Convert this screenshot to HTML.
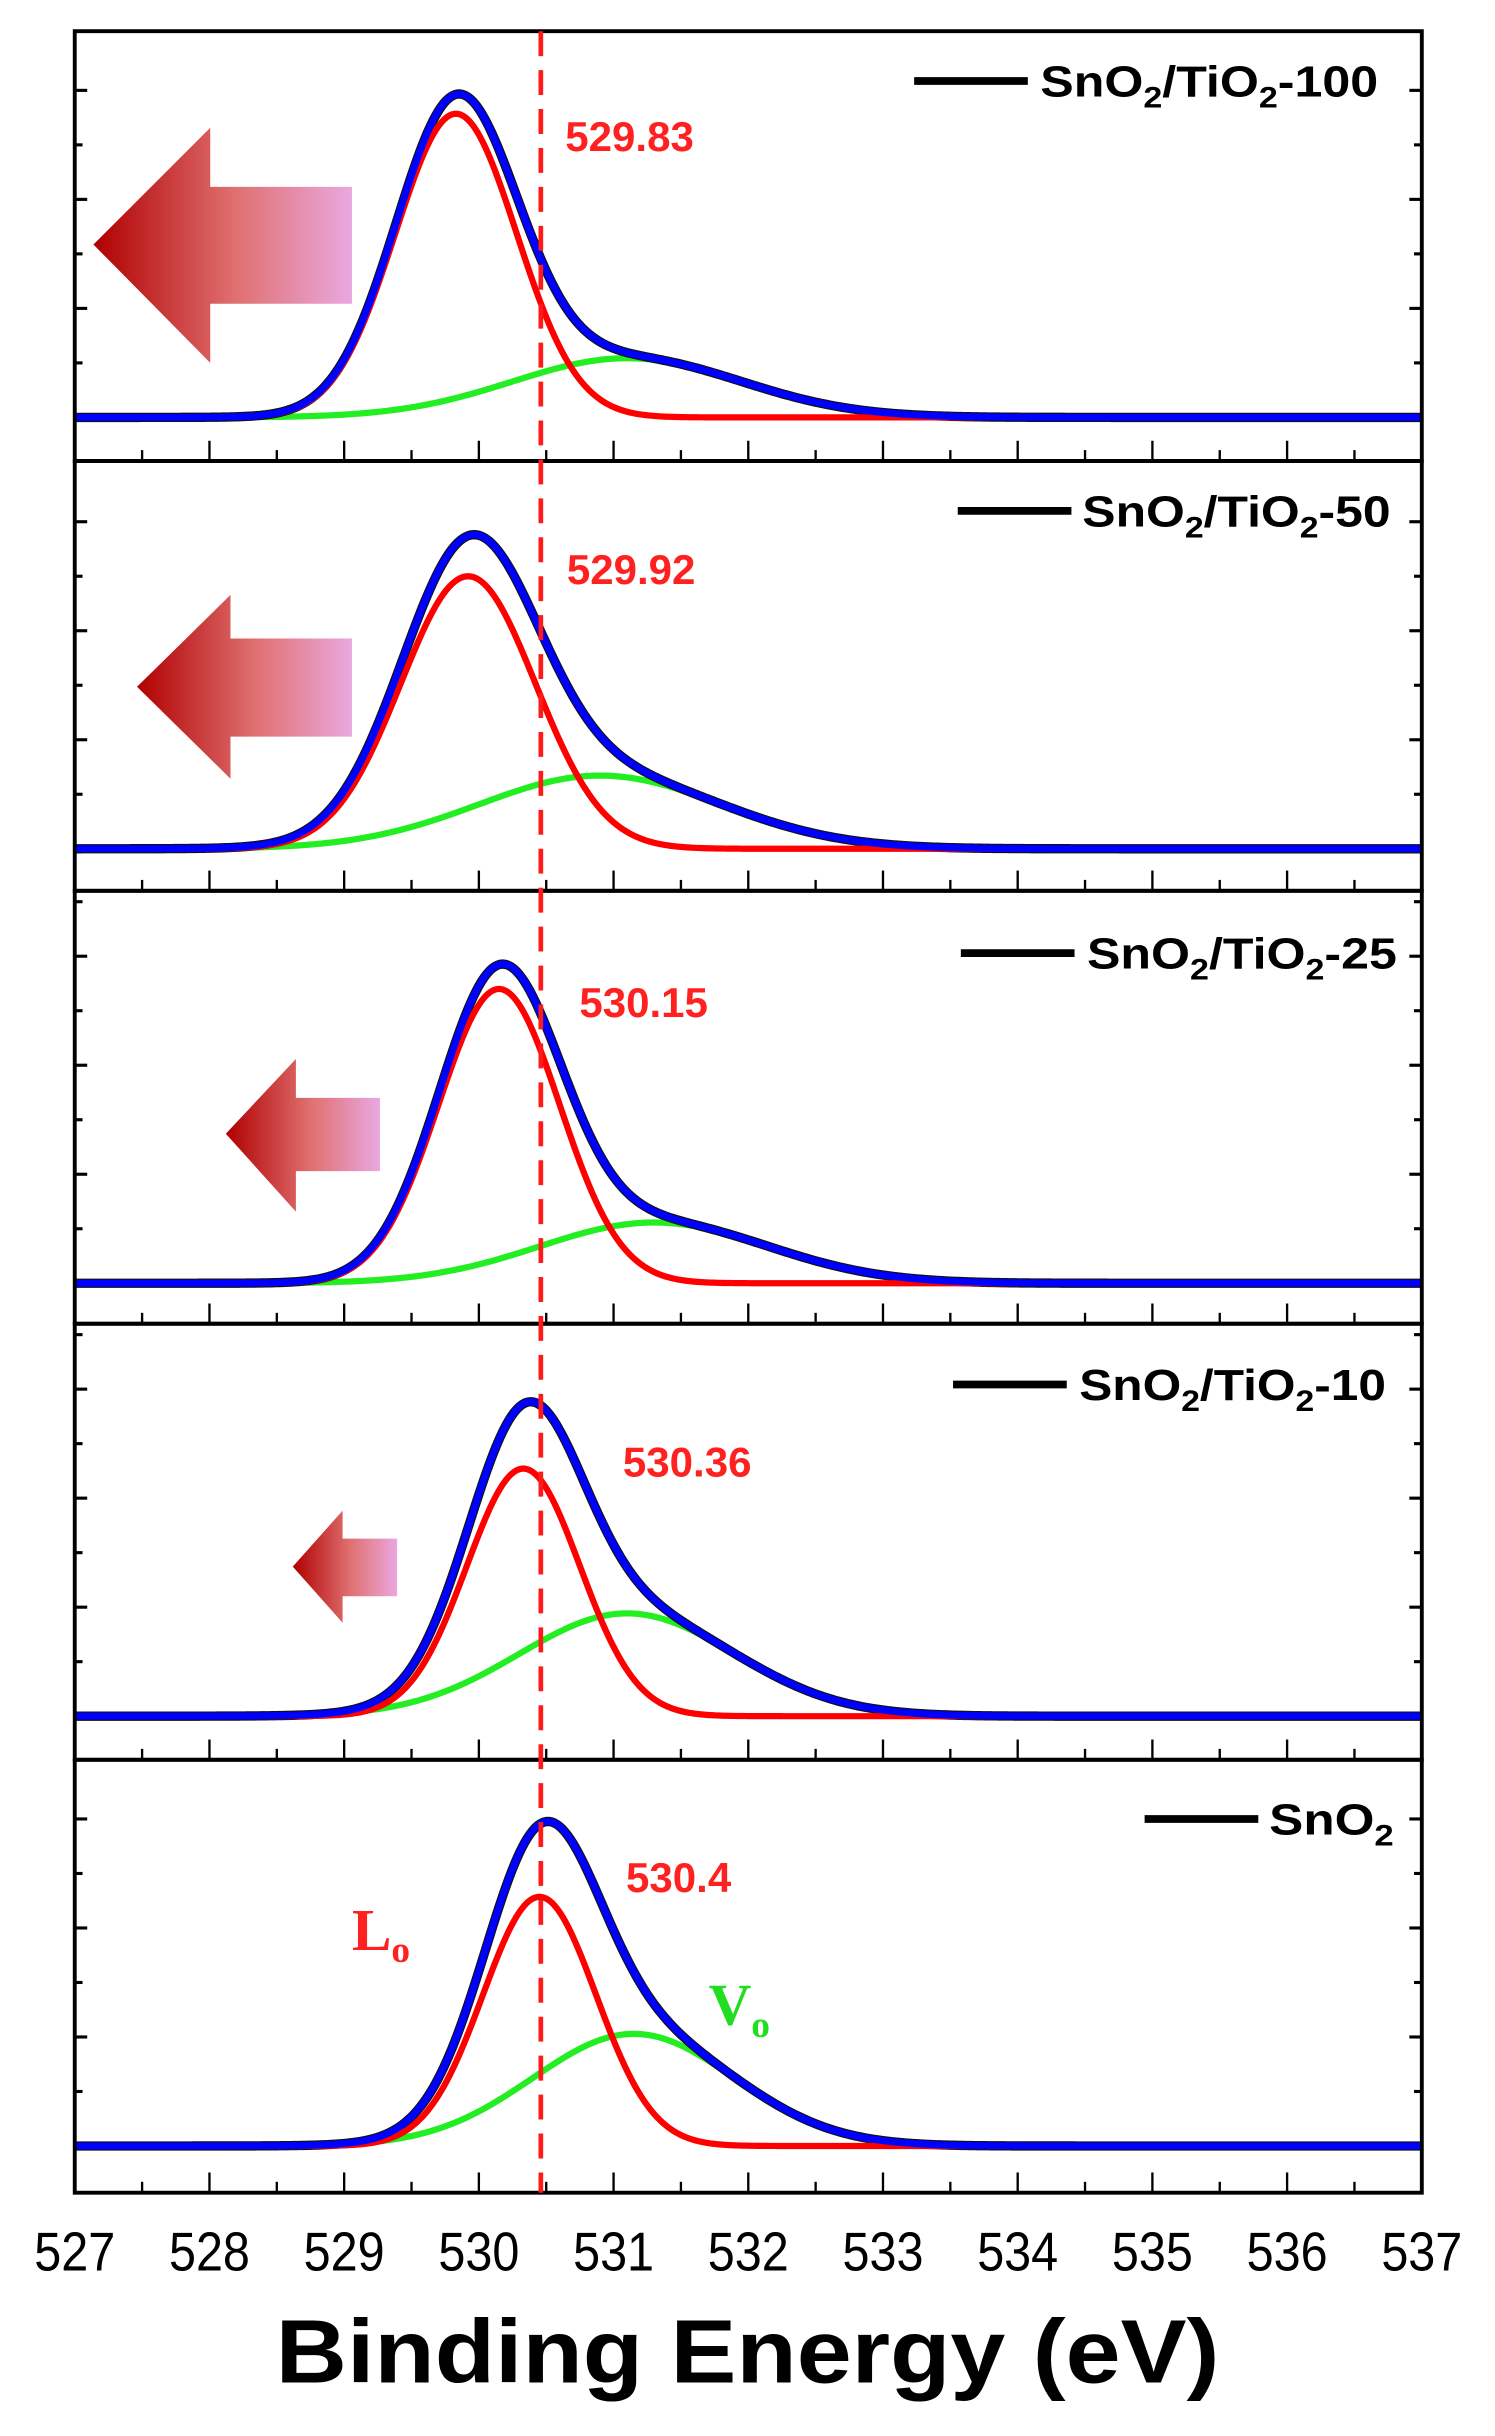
<!DOCTYPE html>
<html><head><meta charset="utf-8">
<style>html,body{margin:0;padding:0;background:#fff;}svg{display:block;}</style></head>
<body>
<svg id="chart" width="1495" height="2436" viewBox="0 0 960 1564.2" xmlns="http://www.w3.org/2000/svg" font-family="'Liberation Sans', sans-serif">
<defs>
<linearGradient id="ag" x1="0" x2="1" y1="0" y2="0">
<stop offset="0" stop-color="#b00000"/><stop offset="0.55" stop-color="#e07070"/><stop offset="1" stop-color="#eaa8e0"/>
</linearGradient>
</defs>
<g id="root"></g>
</svg>
<script>
// data
const sampleNames = ["SnO2/TiO2-100","SnO2/TiO2-50","SnO2/TiO2-25","SnO2/TiO2-10","SnO2"];
const peakLabels = ["529.83","529.92","530.15","530.36","530.4"];
const latticeCenters = [529.83,529.92,530.15,530.33,530.45];
const latticeHeights = [195,175,189,159,160];
const latticeSigmas = [0.45,0.5,0.45,0.42,0.42];
const vacancyCenters = [531.1,530.9,531.3,531.1,531.15];
const vacancyHeights = [38,47,39,66,72];
const vacancySigmas = [0.85,0.9,0.85,0.8,0.75];
const xTicks = [527,528,529,530,531,532,533,534,535,536,537];
const refLine = 530.46;

const NS="http://www.w3.org/2000/svg";
const root=document.getElementById('root');
function mk(tag,attrs,parent){const e=document.createElementNS(NS,tag);for(const k in attrs)e.setAttribute(k,attrs[k]);(parent||root).appendChild(e);return e;}
const X0=48,X1=913,E0=527,E1=537;
function xs(e){return X0+(e-E0)*(X1-X0)/(E1-E0);}
const tops=[20,296,572,850,1130], bots=[296,572,850,1130,1408];
const bases=[268,545,824,1102,1378];
function gauss(e,c,h,s){return h*Math.exp(-(e-c)*(e-c)/(2*s*s));}

// arrows
const arrows=[[60,157,135,82,233,120,195,226],[88,441,148,382,500,410,473,226],[145,728,190,680,778,705,752,244],[188,1006,220,970,1042,988,1025,255]];
arrows.forEach((a,i)=>{
 const [tx,ty,bx,ht,hb,st,sb,rx]=a;
 const p=mk('polygon',{points:`${tx},${ty} ${bx},${ht} ${bx},${st} ${rx},${st} ${rx},${sb} ${bx},${sb} ${bx},${hb}`,fill:'url(#ag)'});
 
 
});

for(let i=0;i<5;i++){
 const g=mk('g',{});
 
 
 const T=tops[i],B=bots[i],base=bases[i];
 for(let e=527;e<=537.001;e+=0.5){
  const major=Math.abs(e-Math.round(e))<0.01;
  mk('line',{x1:xs(e),x2:xs(e),y1:B,y2:B-(major?13:7),stroke:'#000','stroke-width':1.5},g);
 }
 for(let k=0;k*35<base-T-5;k++){
  const y=base-k*35; const L=k%2==0?8:5;
  mk('line',{x1:X0,x2:X0+L,y1:y,y2:y,stroke:'#000','stroke-width':2},g);
  mk('line',{x1:X1,x2:X1-L,y1:y,y2:y,stroke:'#000','stroke-width':2},g);
 }
 let pr='',pg='',pb='';
 for(let e=527;e<=537.0001;e+=0.02){
  const r=gauss(e,latticeCenters[i],latticeHeights[i],latticeSigmas[i]);
  const gg=gauss(e,vacancyCenters[i],vacancyHeights[i],vacancySigmas[i]);
  const x=xs(e).toFixed(2);
  pr+=(pr?'L':'M')+x+','+(base-r).toFixed(2);
  pg+=(pg?'L':'M')+x+','+(base-gg).toFixed(2);
  pb+=(pb?'L':'M')+x+','+(base-r-gg).toFixed(2);
 }
 const cg=mk('path',{d:pg,fill:'none',stroke:'#22ee22','stroke-width':4},g);
 
 
 const ck=mk('path',{d:pb,fill:'none',stroke:'#111','stroke-width':6},g);
 
 
 const cr=mk('path',{d:pr,fill:'none',stroke:'#ff0000','stroke-width':4},g);
 
 
 const cb=mk('path',{d:pb,fill:'none',stroke:'#0000ff','stroke-width':4.5},g);
 
 
 mk('rect',{x:X0,y:T,width:X1-X0,height:B-T,fill:'none',stroke:'#000','stroke-width':2.5},g);
}
const dl=mk('line',{x1:xs(refLine),x2:xs(refLine),y1:20,y2:1408,stroke:'#ff1a1a','stroke-width':3,'stroke-dasharray':'16,9'});



const lblPos=[[363,97],[364,375],[372,653],[400,948],[402,1215]];
peakLabels.forEach((t,i)=>{
 const el=mk('text',{x:lblPos[i][0],y:lblPos[i][1],fill:'#ff2020','font-size':27,'font-weight':'bold'});
 el.textContent=t;
 
 
});
const legs=[[587,660,52,668,885],[615,688,328,695,893],[617,690,612,698,897],[612,685,889,693,890],[735,808,1168,815,895]];
legs.forEach((l,i)=>{
 const g=mk('g',{});
 
 
 mk('line',{x1:l[0],x2:l[1],y1:l[2],y2:l[2],stroke:'#000','stroke-width':5},g);
 const t=mk('text',{x:l[3],y:l[2]+10,'font-size':28,'font-weight':'bold',fill:'#000',textLength:l[4]-l[3],lengthAdjust:'spacingAndGlyphs'},g);
 const n=sampleNames[i];
 if(n==='SnO2'){t.innerHTML='SnO<tspan font-size="19" dy="7">2</tspan>';}
 else{const suf=n.split('-')[1];t.innerHTML='SnO<tspan font-size="19" dy="7">2</tspan><tspan dy="-7">/TiO</tspan><tspan font-size="19" dy="7">2</tspan><tspan dy="-7">-'+suf+'</tspan>';}
});
const lo=mk('text',{x:226,y:1252,fill:'#ff2020','font-size':38,'font-weight':'bold','font-family':"'Liberation Serif', serif"});
lo.innerHTML='L<tspan font-size="24" dy="8">o</tspan>';


const vo=mk('text',{x:455,y:1300,fill:'#22dd22','font-size':38,'font-weight':'bold','font-family':"'Liberation Serif', serif"});
vo.innerHTML='V<tspan font-size="24" dy="8">o</tspan>';


xTicks.forEach(v=>{
 const t=mk('text',{x:xs(v),y:1458,'text-anchor':'middle','font-size':35,fill:'#000',textLength:52,lengthAdjust:'spacingAndGlyphs'});
 t.textContent=v;
 
 
});
const xt=mk('text',{x:480,y:1530,'text-anchor':'middle','font-size':58,'font-weight':'bold',fill:'#000',textLength:606,lengthAdjust:'spacingAndGlyphs'});
xt.textContent='Binding Energy (eV)';


</script>
</body></html>
